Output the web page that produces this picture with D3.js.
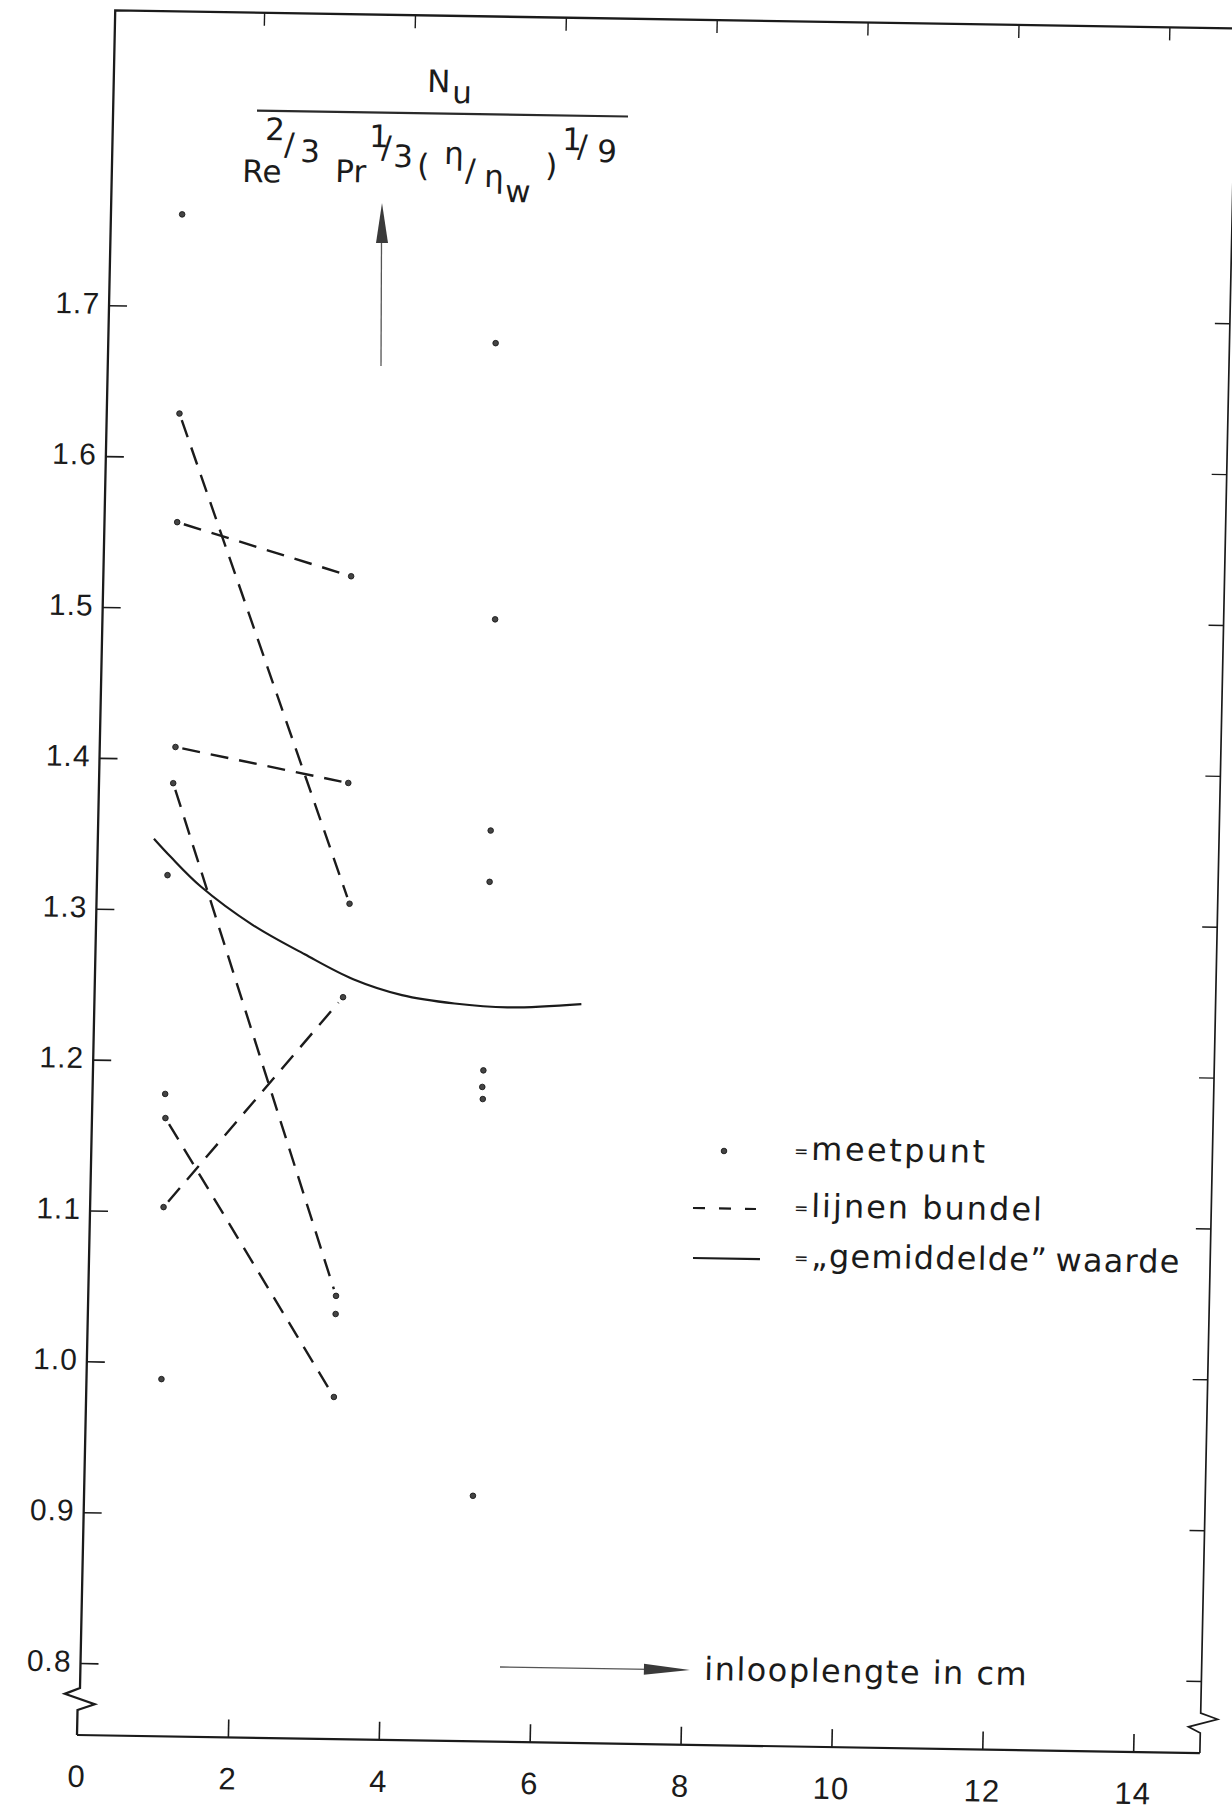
<!DOCTYPE html>
<html>
<head>
<meta charset="utf-8">
<script src="https://cdn.jsdelivr.net/npm/d3@7"></script>
<style>
  html, body { margin: 0; padding: 0; background: #ffffff; }
  svg { display: block; }
</style>
</head>
<body>
<svg id="chart" width="1232" height="1810"></svg>
<script>
// ---- data -------------------------------------------------------------
// inlooplengte (cm) and Nu / (Re^2/3 Pr^1/3 (eta/eta_w)^1/9) per meetpunt
const meetX = [0.97, 0.99, 0.99, 1.03, 1.01, 0.96, 0.99, 1.00, 1.00, 1.02,
               3.31, 3.33, 3.38, 3.32, 3.31, 3.31, 3.31,
               5.16, 5.23, 5.23, 5.23, 5.20, 5.19, 5.20, 5.18];
const meetY = [1.761, 1.629, 1.557, 1.408, 1.384, 1.323, 1.178, 1.162, 1.103, 0.989,
               1.523, 1.386, 1.306, 1.244, 1.046, 1.034, 0.979,
               1.679, 1.496, 1.356, 1.322, 1.197, 1.186, 1.178, 0.915];

// lijnen bundel: each line joins a point at ~1 cm with one at ~3.3 cm
const bundleX1 = [0.99, 0.99, 1.03, 1.01, 1.00, 1.00];
const bundleY1 = [1.629, 1.557, 1.408, 1.384, 1.103, 1.162];
const bundleX2 = [3.38, 3.31, 3.33, 3.31, 3.32, 3.31];
const bundleY2 = [1.306, 1.523, 1.386, 1.046, 1.244, 0.979];

// "gemiddelde" waarde curve
const avgX = [0.77, 1.0, 1.4, 2.1, 2.8, 3.45, 4.1, 4.8, 5.5, 6.48];
const avgY = [1.347, 1.335, 1.316, 1.291, 1.272, 1.256, 1.246, 1.241, 1.239, 1.242];

const xTicks = [0, 2, 4, 6, 8, 10, 12, 14];
const yTicks = [0.8, 0.9, 1.0, 1.1, 1.2, 1.3, 1.4, 1.5, 1.6, 1.7];

// ---- frame ------------------------------------------------------------
// The sheet sits slightly skewed on the page: everything is drawn in a
// local frame (origin = lower-left corner, y up is negative) and mapped
// onto the page with one affine matrix.
const M = { a: 0.99987, b: 0.01606, c: -0.0210, d: 0.99977, e: 77, f: 1735 };
function toLocal(X, Y) {
  const u = X - M.e, v = Y - M.f, det = M.a * M.d - M.b * M.c;
  return [(M.d * u - M.c * v) / det, (-M.b * u + M.a * v) / det];
}

const ink = "#1b1b1b";
const numFont = "'Liberation Sans', Arial, sans-serif";
const txtFont = "'DejaVu Sans', Verdana, sans-serif";

const svg = d3.select("#chart");
svg.append("rect").attr("width", 1232).attr("height", 1810).attr("fill", "#fff");

const g = svg.append("g")
  .attr("transform", `matrix(${M.a},${M.b},${M.c},${M.d},${M.e},${M.f})`);

const x = d3.scaleLinear().domain([0, 14]).range([0, 1056.3]);
const y = d3.scaleLinear().domain([0.8, 1.7]).range([-72, -1430.1]);

const frameTop = -1725;
const frameRight = 1123;

// border lines with the zigzag axis breaks
g.append("path")
  .attr("d", `M0,0 H${frameRight}`)
  .attr("fill", "none").attr("stroke", ink).attr("stroke-width", 2.2);
g.append("path")
  .attr("d", `M0,0 V-25 L17,-31 L-13,-41 L2,-47 V${frameTop} H${frameRight + 80}`)
  .attr("fill", "none").attr("stroke", ink).attr("stroke-width", 2.3)
  .attr("stroke-linejoin", "miter");
g.append("path")
  .attr("d", `M${frameRight},0 V-20 L${frameRight - 12},-26 L${frameRight + 17},-34 L${frameRight},-40 V${frameTop}`)
  .attr("fill", "none").attr("stroke", ink).attr("stroke-width", 1.7);

// ---- axes -------------------------------------------------------------
const axL = g.append("g").attr("transform", "translate(2,0)")
  .call(d3.axisLeft(y).tickValues(yTicks).tickSizeInner(-18).tickSizeOuter(0)
        .tickPadding(9).tickFormat(d3.format(".1f")));
axL.select(".domain").remove();
axL.selectAll(".tick line").attr("stroke", ink).attr("stroke-width", 1.6);
axL.selectAll(".tick text")
  .attr("font-family", numFont).attr("font-size", 30).attr("fill", ink)
  .attr("dy", "0.27em").attr("letter-spacing", 1);

const axB = g.append("g")
  .call(d3.axisBottom(x).tickValues(xTicks).tickSizeInner(-18).tickSizeOuter(0)
        .tickPadding(30).tickFormat(d3.format("d")));
axB.select(".domain").remove();
axB.selectAll(".tick").filter(d => d === 0).select("line").remove();
axB.selectAll(".tick line").attr("stroke", ink).attr("stroke-width", 1.6);
axB.selectAll(".tick text")
  .attr("font-family", numFont).attr("font-size", 31).attr("fill", ink)
  .attr("letter-spacing", 1);

const axT = g.append("g").attr("transform", `translate(0,${frameTop})`)
  .call(d3.axisTop(x).tickValues(xTicks.filter(d => d > 0)).tickSizeInner(-13)
        .tickSizeOuter(0).tickFormat(() => ""));
axT.select(".domain").remove();
axT.selectAll(".tick line").attr("stroke", ink).attr("stroke-width", 1.4);

const axR = g.append("g").attr("transform", `translate(${frameRight},0)`)
  .call(d3.axisRight(y).tickValues(yTicks).tickSizeInner(-15)
        .tickSizeOuter(0).tickFormat(() => ""));
axR.select(".domain").remove();
axR.selectAll(".tick line").attr("stroke", ink).attr("stroke-width", 1.4);

// ---- marks ------------------------------------------------------------
// "gemiddelde" waarde
const avgPts = avgX.map((v, i) => [v, avgY[i]]);
g.append("path")
  .datum(avgPts)
  .attr("d", d3.line().x(d => x(d[0])).y(d => y(d[1])).curve(d3.curveCatmullRom))
  .attr("fill", "none").attr("stroke", ink).attr("stroke-width", 2.2);

// lijnen bundel, each line kept clear of its end points
const gap = 7;
const bundle = bundleX1.map((v, i) => {
  const p1 = [x(v), y(bundleY1[i])];
  const p2 = [x(bundleX2[i]), y(bundleY2[i])];
  const L = Math.hypot(p2[0] - p1[0], p2[1] - p1[1]);
  const ux = (p2[0] - p1[0]) / L, uy = (p2[1] - p1[1]) / L;
  return [[p1[0] + ux * gap, p1[1] + uy * gap], [p2[0] - ux * gap, p2[1] - uy * gap]];
});
g.selectAll("path.bundle").data(bundle).join("path")
  .attr("class", "bundle")
  .attr("d", d => d3.line()(d))
  .attr("fill", "none").attr("stroke", ink).attr("stroke-width", 2.4)
  .attr("stroke-dasharray", "18 11");

// meetpunten
const meet = meetX.map((v, i) => [v, meetY[i]]);
g.selectAll("circle.meet").data(meet).join("circle")
  .attr("class", "meet")
  .attr("cx", d => x(d[0])).attr("cy", d => y(d[1]))
  .attr("r", 2.8).attr("fill", "#444").attr("stroke", ink).attr("stroke-width", 0.9);

// ---- ordinate label (fraction) ----------------------------------------
const formula = [
  { t: "N", X: 427, Y: 92 },
  { t: "u", X: 452, Y: 103 },
  { t: "Re", X: 242, Y: 182 },
  { t: "2", X: 265, Y: 140 },
  { t: "/", X: 284, Y: 155 },
  { t: "3", X: 300, Y: 162 },
  { t: "Pr", X: 335, Y: 182 },
  { t: "1", X: 369, Y: 147 },
  { t: "/", X: 381, Y: 158 },
  { t: "3", X: 393, Y: 167 },
  { t: "(", X: 417, Y: 176 },
  { t: "\u03B7", X: 444, Y: 164 },
  { t: "/", X: 465, Y: 181 },
  { t: "\u03B7", X: 484, Y: 187 },
  { t: "w", X: 505, Y: 202 },
  { t: ")", X: 545, Y: 176 },
  { t: "1", X: 562, Y: 150 },
  { t: "/", X: 577, Y: 157 },
  { t: "9", X: 597, Y: 162 }
];
formula.forEach(f => {
  const p = toLocal(f.X, f.Y);
  g.append("text").attr("x", p[0]).attr("y", p[1])
    .attr("font-family", txtFont).attr("font-size", 31).attr("fill", ink)
    .text(f.t);
});
{
  const a = toLocal(257, 110.7), b = toLocal(628, 116.5);
  g.append("line").attr("x1", a[0]).attr("y1", a[1]).attr("x2", b[0]).attr("y2", b[1])
    .attr("stroke", "#2a2a2a").attr("stroke-width", 2.2);
}

// upward arrow under the fraction
{
  const s0 = toLocal(381, 366), s1 = toLocal(381.5, 240);
  g.append("line").attr("x1", s0[0]).attr("y1", s0[1]).attr("x2", s1[0]).attr("y2", s1[1])
    .attr("stroke", "#555").attr("stroke-width", 1.3);
  const tip = toLocal(382, 203), bl = toLocal(376, 243), br = toLocal(388, 243);
  g.append("path").attr("d", `M${tip}L${bl}L${br}Z`).attr("fill", "#3a3a3a");
}

// ---- abscissa label ---------------------------------------------------
{
  const t = toLocal(704, 1680);
  g.append("text").attr("x", t[0]).attr("y", t[1])
    .attr("font-family", txtFont).attr("font-size", 32).attr("fill", ink)
    .attr("letter-spacing", 1.5)
    .text("inlooplengte in cm");
  const a0 = toLocal(500, 1666);
  const tipX = toLocal(690, 1666)[0];
  const ay = a0[1] + 1;
  g.append("line").attr("x1", a0[0]).attr("y1", ay).attr("x2", tipX - 40).attr("y2", ay)
    .attr("stroke", "#555").attr("stroke-width", 1.3);
  g.append("path")
    .attr("d", `M${tipX},${ay} L${tipX - 46},${ay - 5.5} L${tipX - 46},${ay + 5.5} Z`)
    .attr("fill", "#3a3a3a");
}

// ---- legend -----------------------------------------------------------
{
  const rows = [
    { kind: "dot", label: "meetpunt", Y: 1151, ls: 2.5 },
    { kind: "dash", label: "lijnen bundel", Y: 1208, ls: 2 },
    { kind: "solid", label: "\u201Egemiddelde\u201D\u2009waarde", Y: 1258, ls: 1.2 }
  ];
  rows.forEach(r => {
    const base = toLocal(811, r.Y + 9);
    const eq = toLocal(794, r.Y + 6);
    g.append("text").attr("x", eq[0]).attr("y", eq[1])
      .attr("font-family", txtFont).attr("font-size", 17).attr("fill", ink).text("=");
    g.append("text").attr("x", base[0]).attr("y", base[1])
      .attr("font-family", txtFont).attr("font-size", 32).attr("fill", ink)
      .attr("letter-spacing", r.ls).text(r.label);
    if (r.kind === "dot") {
      const c = toLocal(724, r.Y);
      g.append("circle").attr("cx", c[0]).attr("cy", c[1]).attr("r", 2.8)
        .attr("fill", "#444").attr("stroke", ink).attr("stroke-width", 0.9);
    } else {
      const p0 = toLocal(693, r.Y), p1 = toLocal(r.kind === "dash" ? 756 : 760, r.Y);
      g.append("line").attr("x1", p0[0]).attr("y1", p0[1]).attr("x2", p1[0]).attr("y2", p0[1])
        .attr("stroke", ink).attr("stroke-width", 2.2)
        .attr("stroke-dasharray", r.kind === "dash" ? "12 14" : null);
    }
  });
}
</script>
</body>
</html>
